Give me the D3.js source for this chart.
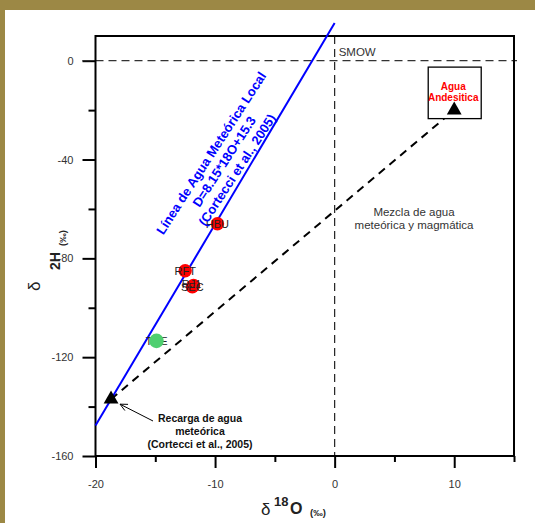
<!DOCTYPE html>
<meta charset="utf-8">
<style>
body { margin: 0; background: #9c8845; }
svg text { font-family: "Liberation Sans", Arial, sans-serif; }
.tick text { fill: #333; font-size: 11px; }
</style>
<body>
<script src="https://d3js.org/d3.v7.min.js"></script>
<script>
// sample points (delta 18O, delta 2H)
var sampleLabels = ["HBU", "RFT", "SEC", "RJ1"];
var sampleO = [-9.8, -12.5, -11.9, -11.8];
var sampleD = [-66, -85, -91.5, -91];
var greenLabels = ["TCE"];
var greenO = [-14.9];
var greenD = [-113.4];
// end members of the mixing line
var endO = [-18.7, 10];
var endD = [-137, -20];
// local meteoric water line D = 8.15*O + 15.3
var lmwlSlope = 8.15, lmwlInt = 15.3;
var lmwlO = [-20, 0];
var xMajor = [-20, -10, 0, 10], xMinor = [-15, -5, 5, 15];
var yMajor = [0, -40, -80, -120, -160], yMinor = [-20, -60, -100, -140];

var width = 535, height = 523;
var svg = d3.select("body").append("svg")
    .attr("width", width)
    .attr("height", height)
    .style("display", "block");

// olive border + white sheet
svg.append("rect").attr("width", width).attr("height", height).attr("fill", "#9c8845");
svg.append("rect").attr("x", 5).attr("y", 10).attr("width", width).attr("height", height).attr("fill", "#fff");

var x = d3.scaleLinear().domain([-20, 15]).range([95.5, 514]);
var y = d3.scaleLinear().domain([-160, 10]).range([456, 36]);
var fmt = function(d) { return String(d); };   // plain hyphen minus

// axes
function drawX(vals, size) {
  var g = svg.append("g").attr("transform", "translate(0," + y(-160) + ")")
      .call(d3.axisBottom(x).tickValues(vals).tickSize(size).tickPadding(7)
        .tickFormat(size > 8 ? fmt : ""));
  g.select(".domain").remove();
  g.selectAll("line").attr("stroke", "#000").attr("stroke-width", 2);
  g.selectAll("text").attr("dy", "1.2em");
}
function drawY(vals, size) {
  var g = svg.append("g").attr("transform", "translate(" + x(-20) + ",0)")
      .call(d3.axisLeft(y).tickValues(vals).tickSize(size).tickPadding(9)
        .tickFormat(size > 8 ? fmt : ""));
  g.select(".domain").remove();
  g.selectAll("line").attr("stroke", "#000").attr("stroke-width", 2);
}
drawX(xMajor, 12); drawX(xMinor, 6);
drawY(yMajor, 13); drawY(yMinor, 7);

// reference dashed lines (SMOW)
svg.append("line")
    .attr("x1", x(0)).attr("x2", x(0)).attr("y1", y(10)).attr("y2", y(-160))
    .attr("stroke", "#222").attr("stroke-width", 1.2).attr("stroke-dasharray", "8,5");
svg.append("line")
    .attr("x1", x(-20) - 13).attr("x2", x(15) + 3).attr("y1", y(0)).attr("y2", y(0))
    .attr("stroke", "#333").attr("stroke-width", 1.2).attr("stroke-dasharray", "8,5");

// frame
svg.append("rect")
    .attr("x", x(-20)).attr("y", y(10))
    .attr("width", x(15) - x(-20)).attr("height", y(-160) - y(10))
    .attr("fill", "none").attr("stroke", "#000").attr("stroke-width", 2);

svg.append("text").attr("x", x(0) + 4).attr("y", y(0) - 5)
    .attr("font-size", 11.5).attr("fill", "#333").text("SMOW");

// mixing line
svg.append("line")
    .attr("x1", x(endO[0])).attr("y1", y(endD[0]))
    .attr("x2", x(endO[1])).attr("y2", y(endD[1]))
    .attr("stroke", "#000").attr("stroke-width", 2).attr("stroke-dasharray", "8,6");

// meteoric water line
svg.append("line")
    .attr("x1", x(lmwlO[0])).attr("y1", y(lmwlSlope * lmwlO[0] + lmwlInt))
    .attr("x2", x(lmwlO[1])).attr("y2", y(lmwlSlope * lmwlO[1] + lmwlInt))
    .attr("stroke", "#0000ff").attr("stroke-width", 2);

// andesitic water box
var bx = x(endO[1]), by = y(endD[1]);
svg.append("rect").attr("x", bx - 26).attr("y", by - 43).attr("width", 53).attr("height", 51.5)
    .attr("fill", "#fff").attr("stroke", "#000").attr("stroke-width", 1.3);
svg.append("text").attr("x", bx - 1).attr("y", by - 20).attr("text-anchor", "middle")
    .attr("font-size", 10).attr("font-weight", "bold").attr("fill", "#ff0000")
    .selectAll("tspan").data(["Agua", "Andesitica"]).join("tspan")
    .attr("x", bx - 1).attr("dy", function(d, i) { return i ? 10.5 : 0; }).text(function(d) { return d; });

// end member triangles
svg.selectAll(".tri").data(endO).join("path")
    .attr("class", "tri")
    .attr("d", d3.symbol().type(d3.symbolTriangle).size(95))
    .attr("transform", function(d, i) { return "translate(" + x(d) + "," + y(endD[i]) + ")"; })
    .attr("fill", "#000");

// red samples, labels on top
var redG = svg.append("g");
redG.selectAll("circle").data(sampleO).join("circle")
    .attr("cx", function(d) { return x(d); })
    .attr("cy", function(d, i) { return y(sampleD[i]); })
    .attr("r", 6.7).attr("fill", "#ff0000");
var redL = svg.append("g");
redL.selectAll("text").data(sampleLabels).join("text")
    .attr("x", function(d, i) { return x(sampleO[i]) + (i == 3 ? -2 : 0); })
    .attr("y", function(d, i) { return y(sampleD[i]) + (i == 3 ? -1 : 0); })
    .attr("dy", "0.36em").attr("text-anchor", "middle")
    .attr("font-size", 11).attr("fill", "#222").text(function(d) { return d; });

// green sample (circle drawn over its label)
var greenG = svg.append("g");
greenG.selectAll("text").data(greenLabels).join("text")
    .attr("x", function(d, i) { return x(greenO[i]); })
    .attr("y", function(d, i) { return y(greenD[i]); })
    .attr("dy", "0.36em").attr("text-anchor", "middle")
    .attr("font-size", 11).attr("fill", "#222").text(function(d) { return d; });
greenG.selectAll("circle").data(greenO).join("circle")
    .attr("cx", function(d) { return x(d); })
    .attr("cy", function(d, i) { return y(greenD[i]); })
    .attr("r", 7.3).attr("fill", "#4fcf70");

// rotated label of the meteoric line
var lg = svg.append("g").attr("transform", "translate(224,161.5) rotate(-57)");
lg.selectAll("text").data(["Línea de Agua Meteórica Local", "D=8.15*18O+15.3", "(Cortecci et al., 2005)"])
  .join("text")
    .attr("y", function(d, i) { return (i - 1) * 15.5; })
    .attr("dy", "0.36em").attr("text-anchor", "middle")
    .attr("font-size", 13).attr("font-weight", "bold").attr("fill", "#0000ff")
    .text(function(d) { return d; });

// mixing annotation
svg.append("text").attr("text-anchor", "middle").attr("font-size", 11.5).attr("fill", "#333")
    .selectAll("tspan").data(["Mezcla de agua", "meteórica y magmática"]).join("tspan")
    .attr("x", 414).attr("y", function(d, i) { return 216 + i * 13; })
    .text(function(d) { return d; });

// recharge annotation + arrow
var rx = x(endO[0]), ry = y(endD[0]);
svg.append("text").attr("text-anchor", "middle").attr("font-size", 10.5)
    .attr("font-weight", "bold").attr("fill", "#111")
    .selectAll("tspan").data(["Recarga de agua", "meteórica", "(Cortecci et al., 2005)"]).join("tspan")
    .attr("x", 200).attr("y", function(d, i) { return 422 + i * 13; })
    .text(function(d) { return d; });
var ax = rx + 9, ay = ry + 5, sx = 153, sy = 421;
var ang = Math.atan2(sy - ay, sx - ax);
svg.append("path")
    .attr("d", "M" + sx + "," + sy + "L" + ax + "," + ay +
      "M" + (ax + 8 * Math.cos(ang - 0.45)) + "," + (ay + 8 * Math.sin(ang - 0.45)) +
      "L" + ax + "," + ay +
      "L" + (ax + 8 * Math.cos(ang + 0.45)) + "," + (ay + 8 * Math.sin(ang + 0.45)))
    .attr("fill", "none").attr("stroke", "#000").attr("stroke-width", 1);

// x title
var xt = svg.append("g").attr("fill", "#222").attr("font-weight", "bold");
xt.append("text").attr("x", 261).attr("y", 515).attr("font-size", 17).attr("font-weight", "normal").text("δ");
xt.append("text").attr("x", 274).attr("y", 506).attr("font-size", 13).text("18");
xt.append("text").attr("x", 290).attr("y", 514).attr("font-size", 16).text("O");
xt.append("text").attr("x", 310).attr("y", 516).attr("font-size", 9.5).text("(‰)");

// y title
var yt = svg.append("g").attr("fill", "#222").attr("font-weight", "bold");
yt.append("text").attr("transform", "translate(40,291) rotate(-90)").attr("font-size", 17).attr("font-weight", "normal").text("δ");
yt.append("text").attr("transform", "translate(60,270) rotate(-90)").attr("font-size", 14).text("2H");
yt.append("text").attr("transform", "translate(66,246) rotate(-90)").attr("font-size", 9.5).text("(‰)");
</script>
